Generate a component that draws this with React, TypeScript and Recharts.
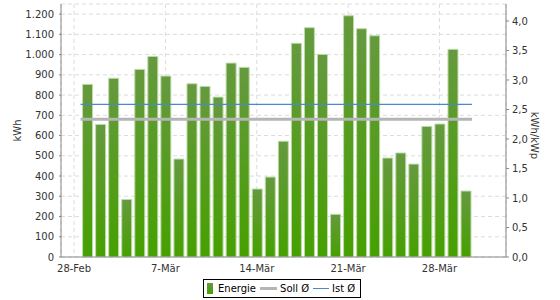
import React from 'react';
import { ComposedChart, Bar, XAxis, YAxis, CartesianGrid, ReferenceLine } from 'recharts';

// Day of the chart: 0 = 28-Feb, 1 = 1-Mär, ... 30 = 30-Mär
const DAYS = [1, 2, 3, 4, 5, 6, 7, 8, 9, 10, 11, 12, 13, 14, 15, 16, 17, 18, 19, 20, 21, 22, 23, 24, 25, 26, 27, 28, 29, 30];
const ENERGIE = [853, 655, 883, 284, 927, 991, 894, 484, 856, 843, 790, 958, 937, 336, 395, 572, 1056, 1133, 1001, 211, 1192, 1128, 1093, 489, 514, 459, 645, 657, 1026, 326];

const X_TICKS = [0, 7, 14, 21, 28];
const X_TICK_LABELS = ['28-Feb', '7-Mär', '14-Mär', '21-Mär', '28-Mär'];
const X_DOMAIN = [-1, 33.1];

const KWH_TICKS = [0, 100, 200, 300, 400, 500, 600, 700, 800, 900, 1000, 1100, 1200];
const KWH_DOMAIN = [0, 1250];
const KWP_TICKS = [0, 0.5, 1, 1.5, 2, 2.5, 3, 3.5, 4];
const KWP_DOMAIN = [0, 4.288];

const SOLL_AVG = 680;
const IST_AVG = 754;
const AVG_FROM = 0.5;
const AVG_TO = 30.5;

const LEGEND_ITEMS = ['Energie', 'Soll Ø', 'Ist Ø'];

const data = DAYS.map((d, i) => ({ day: d, energie: ENERGIE[i] }));

const FONT = 'DejaVu Sans';
const TEXT = '#333333';

const fmtKwh = (v: number) => {
  const s = String(Math.round(v));
  return s.replace(/\B(?=(\d{3})+(?!\d))/g, '.');
};
const fmtKwp = (v: number) => v.toFixed(1).replace('.', ',');
const fmtDay = (v: number) => {
  const i = X_TICKS.indexOf(v);
  return i >= 0 ? X_TICK_LABELS[i] : '';
};

const AxisTitle = (props: any) => {
  const { viewBox, title, tx, rot, shiftY } = props;
  const cy = (viewBox && typeof viewBox.y === 'number' ? viewBox.y + viewBox.height / 2 : 130.5) + (shiftY || 0);
  return (
    <text
      x={tx}
      y={cy}
      transform={`rotate(${rot} ${tx} ${cy})`}
      textAnchor="middle"
      dominantBaseline="central"
      fontSize={10}
      fontFamily={FONT}
      fill={TEXT}
    >
      {title}
    </text>
  );
};

const LegendBox = () => (
  <div
    style={{
      position: 'absolute',
      left: 203,
      top: 279,
      height: 19,
      boxSizing: 'border-box',
      border: '1px solid #000',
      display: 'flex',
      alignItems: 'center',
      padding: '0 5px 0 3px',
      fontFamily: FONT,
      fontSize: 10,
      color: '#000',
      whiteSpace: 'nowrap',
    }}
  >
    <svg width={6} height={11} style={{ marginRight: 5 }}>
      <rect x={0} y={0} width={6} height={11} fill="url(#legendGrad)" />
      <defs>
        <linearGradient id="legendGrad" x1="0" y1="0" x2="0" y2="1">
          <stop offset="0" stopColor="#66993f" />
          <stop offset="1" stopColor="#46a000" />
        </linearGradient>
      </defs>
    </svg>
    <span>{LEGEND_ITEMS[0]}</span>
    <svg width={17} height={5} style={{ marginLeft: 4, marginRight: 3 }}>
      <line x1={0} y1={2.5} x2={17} y2={2.5} stroke="#b5b5b5" strokeWidth={3} />
    </svg>
    <span>{LEGEND_ITEMS[1]}</span>
    <svg width={16} height={5} style={{ marginLeft: 4, marginRight: 3 }}>
      <line x1={0} y1={2.5} x2={16} y2={2.5} stroke="#4a88cc" strokeWidth={1} />
    </svg>
    <span>{LEGEND_ITEMS[2]}</span>
  </div>
);

export default function App() {
  const tickStyle = { fontSize: 10, fill: TEXT, fontFamily: FONT };
  return (
    <div style={{ position: 'absolute', left: 0, top: 0, width: 560, height: 300, background: '#fff' }}>
      <ComposedChart width={560} height={300} data={data} margin={{ top: 4, right: 0, bottom: 0, left: 0 }}>
        <defs>
          <linearGradient id="barGrad" x1="0" y1="0" x2="0" y2="1">
            <stop offset="0" stopColor="#66993f" />
            <stop offset="1" stopColor="#46a000" />
          </linearGradient>
        </defs>
        <CartesianGrid yAxisId="kwh" stroke="#dcdcdc" strokeDasharray="4 3" />
        <XAxis
          dataKey="day"
          type="number"
          domain={X_DOMAIN}
          ticks={X_TICKS}
          interval={0}
          tickFormatter={fmtDay}
          height={43}
          axisLine={{ stroke: '#888888' }}
          tickLine={false}
          tickSize={3}
          tickMargin={5}
          tick={tickStyle}
          allowDataOverflow
        />
        <XAxis
          xAxisId="top"
          orientation="top"
          type="number"
          domain={X_DOMAIN}
          height={0}
          tick={false}
          tickLine={false}
          axisLine={{ stroke: '#aaaaaa' }}
          allowDataOverflow
        />
        <YAxis
          yAxisId="kwh"
          width={61}
          domain={KWH_DOMAIN}
          ticks={KWH_TICKS}
          interval={0}
          tickFormatter={fmtKwh}
          axisLine={{ stroke: '#888888' }}
          tickLine={{ stroke: '#888888' }}
          tickSize={2}
          tickMargin={5}
          tick={tickStyle}
          allowDataOverflow
          label={<AxisTitle title="kWh" tx={17} rot={-90} shiftY={0} />}
        />
        <YAxis
          yAxisId="kwp"
          orientation="right"
          width={54}
          domain={KWP_DOMAIN}
          ticks={KWP_TICKS}
          interval={0}
          tickFormatter={fmtKwp}
          axisLine={{ stroke: '#888888' }}
          tickLine={{ stroke: '#888888' }}
          tickSize={3}
          tickMargin={3}
          tick={tickStyle}
          allowDataOverflow
          label={<AxisTitle title="kWh/kWp" tx={534} rot={90} shiftY={5} />}
        />
        <Bar
          yAxisId="kwh"
          dataKey="energie"
          barSize={10}
          fill="url(#barGrad)"
          stroke="#bddca9"
          strokeWidth={1}
          isAnimationActive={false}
        />
        <ReferenceLine
          yAxisId="kwh"
          segment={[{ x: AVG_FROM, y: SOLL_AVG }, { x: AVG_TO, y: SOLL_AVG }]}
          stroke="#b5b5b5"
          strokeWidth={3}
        />
        <ReferenceLine
          yAxisId="kwh"
          segment={[{ x: AVG_FROM, y: IST_AVG }, { x: AVG_TO, y: IST_AVG }]}
          stroke="#4a88cc"
          strokeWidth={1.2}
        />
      </ComposedChart>
      <LegendBox />
    </div>
  );
}
